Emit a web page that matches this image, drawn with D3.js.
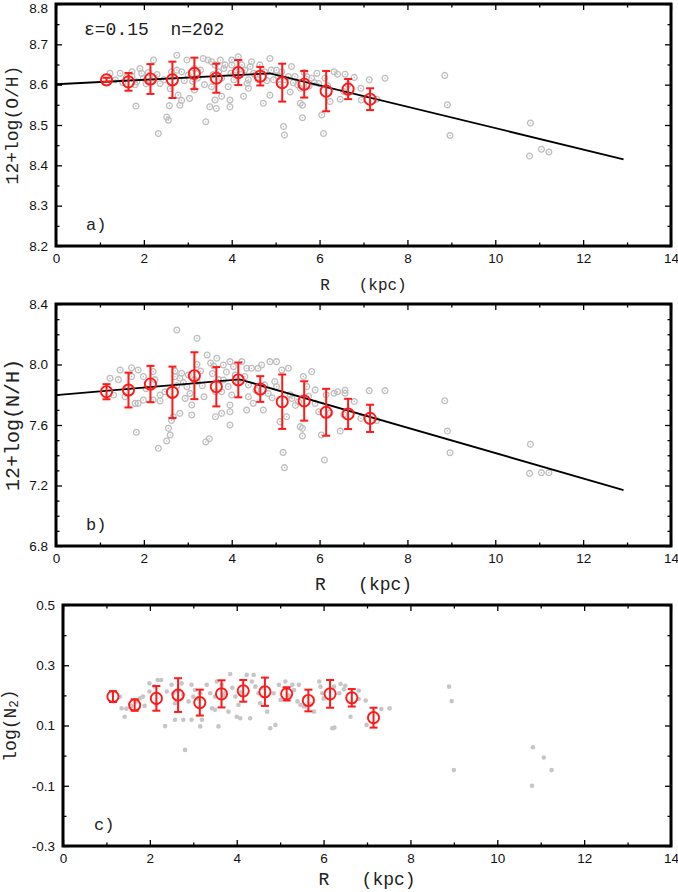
<!DOCTYPE html>
<html><head><meta charset="utf-8">
<script src="https://cdn.jsdelivr.net/npm/d3@7"></script>
<style>body{margin:0;background:#fff}svg{display:block}</style>
</head><body>
<svg id="c" width="678" height="892"></svg>
<script>
// ---------- DATA ----------
const binR = [1.15,1.65,2.15,2.65,3.15,3.65,4.15,4.65,5.15,5.65,6.15,6.65,7.15];
const binOH    = [8.612,8.607,8.614,8.612,8.628,8.616,8.630,8.621,8.605,8.601,8.584,8.589,8.564];
const binOHerr = [0.005,0.022,0.037,0.045,0.039,0.036,0.031,0.023,0.047,0.033,0.050,0.025,0.027];
const binNH    = [7.820,7.831,7.871,7.816,7.926,7.853,7.898,7.838,7.754,7.759,7.684,7.673,7.644];
const binNHerr = [0.050,0.115,0.120,0.170,0.155,0.130,0.115,0.085,0.180,0.130,0.155,0.100,0.090];
const binN2    = [0.196,0.168,0.190,0.201,0.176,0.205,0.215,0.212,0.205,0.183,0.205,0.192,0.126];
const binN2err = [0.018,0.019,0.041,0.056,0.043,0.045,0.036,0.047,0.022,0.036,0.046,0.029,0.033];

const fitOHR = [0, 4.87, 12.92];
const fitOH  = [8.601, 8.628, 8.415];
const fitNHR = [0, 4.18, 12.92];
const fitNH  = [7.798, 7.902, 7.170];

const ptsOH = [[1.23,8.628],[1.35,8.612],[1.46,8.628],[1.52,8.605],[1.60,8.618],[1.73,8.632],[1.73,8.620],[1.80,8.600],[1.84,8.607],[1.82,8.547],[1.91,8.640],[1.95,8.628],[1.99,8.616],[2.05,8.602],[2.10,8.630],[2.22,8.661],[2.25,8.616],[2.30,8.625],[2.37,8.603],[2.33,8.479],[2.45,8.612],[2.52,8.520],[2.56,8.512],[2.58,8.548],[2.63,8.632],[2.60,8.590],[2.68,8.620],[2.75,8.673],[2.75,8.636],[2.78,8.574],[2.82,8.549],[2.86,8.632],[2.86,8.561],[2.92,8.610],[2.98,8.661],[3.01,8.624],[3.04,8.566],[3.11,8.608],[3.15,8.587],[3.15,8.640],[3.22,8.616],[3.29,8.636],[3.35,8.665],[3.38,8.600],[3.41,8.508],[3.46,8.661],[3.50,8.545],[3.54,8.657],[3.54,8.595],[3.58,8.625],[3.62,8.649],[3.62,8.562],[3.65,8.541],[3.70,8.632],[3.74,8.661],[3.77,8.616],[3.77,8.571],[3.82,8.640],[3.85,8.649],[3.92,8.595],[3.96,8.562],[3.96,8.545],[3.98,8.628],[4.00,8.661],[4.00,8.649],[4.05,8.612],[4.10,8.636],[4.15,8.669],[4.20,8.625],[4.23,8.649],[4.27,8.571],[4.30,8.636],[4.35,8.603],[4.38,8.591],[4.38,8.612],[4.42,8.645],[4.45,8.657],[4.50,8.628],[4.53,8.624],[4.60,8.612],[4.64,8.649],[4.72,8.554],[4.75,8.632],[4.80,8.610],[4.87,8.665],[4.87,8.574],[4.90,8.636],[4.95,8.612],[5.02,8.636],[5.06,8.620],[5.10,8.600],[5.14,8.632],[5.18,8.496],[5.20,8.475],[5.22,8.612],[5.29,8.620],[5.33,8.582],[5.36,8.645],[5.40,8.605],[5.44,8.620],[5.50,8.600],[5.56,8.591],[5.56,8.554],[5.61,8.549],[5.61,8.518],[5.65,8.630],[5.71,8.620],[5.76,8.597],[5.82,8.616],[5.88,8.605],[5.94,8.628],[5.98,8.603],[6.05,8.525],[6.09,8.479],[6.12,8.616],[6.18,8.598],[6.24,8.558],[6.33,8.632],[6.41,8.626],[6.47,8.564],[6.55,8.583],[6.58,8.626],[6.65,8.600],[6.79,8.618],[6.94,8.591],[6.95,8.562],[7.13,8.612],[7.30,8.564],[7.49,8.616],[8.85,8.623],[8.91,8.550],[8.97,8.474],[10.80,8.505],[10.78,8.423],[11.05,8.440],[11.22,8.433]];

const ptsNH = [[1.23,7.909],[1.31,7.798],[1.42,7.900],[1.46,7.964],[1.57,7.787],[1.65,7.850],[1.72,7.979],[1.72,7.920],[1.80,7.743],[1.83,7.552],[1.87,7.964],[1.87,7.743],[1.99,7.920],[1.99,7.765],[2.05,7.840],[2.21,7.953],[2.21,7.765],[2.25,7.900],[2.33,7.446],[2.37,7.798],[2.37,7.759],[2.48,7.820],[2.52,7.494],[2.56,7.578],[2.60,7.534],[2.63,7.630],[2.67,7.655],[2.71,7.957],[2.71,7.920],[2.75,8.228],[2.75,7.860],[2.82,7.909],[2.82,7.677],[2.86,7.942],[2.90,7.880],[2.94,7.776],[2.98,7.853],[3.01,7.931],[3.05,7.809],[3.09,7.732],[3.09,7.666],[3.15,7.900],[3.21,8.173],[3.21,8.000],[3.21,7.887],[3.29,7.957],[3.33,7.860],[3.37,7.787],[3.41,7.488],[3.44,8.063],[3.49,7.509],[3.52,8.010],[3.56,7.940],[3.59,7.990],[3.63,7.820],[3.63,7.655],[3.66,8.041],[3.70,7.900],[3.77,7.820],[3.77,7.677],[3.81,7.997],[3.81,7.898],[3.88,7.950],[3.92,7.854],[3.96,8.019],[3.96,7.732],[3.96,7.688],[3.96,7.600],[4.00,7.798],[4.04,7.986],[4.08,7.930],[4.15,7.880],[4.23,8.019],[4.30,7.920],[4.34,7.975],[4.34,7.699],[4.38,7.865],[4.38,7.787],[4.45,7.975],[4.49,7.743],[4.55,7.830],[4.60,7.975],[4.68,7.997],[4.72,7.699],[4.75,7.865],[4.83,7.809],[4.87,8.019],[4.92,7.780],[4.98,7.887],[5.02,8.019],[5.02,7.854],[5.10,7.622],[5.14,7.964],[5.17,7.419],[5.20,7.318],[5.25,7.655],[5.29,7.975],[5.33,7.800],[5.37,7.776],[5.45,7.730],[5.52,7.754],[5.56,7.589],[5.61,7.578],[5.61,7.528],[5.63,7.920],[5.71,7.854],[5.75,7.790],[5.82,7.953],[5.90,7.743],[5.90,7.832],[5.98,7.688],[6.04,7.534],[6.11,7.369],[6.15,7.800],[6.24,7.680],[6.33,7.810],[6.41,7.820],[6.47,7.560],[6.55,7.670],[6.58,7.830],[6.58,7.810],[6.79,7.755],[6.94,7.644],[7.13,7.827],[7.30,7.630],[7.49,7.827],[8.85,7.760],[8.91,7.560],[8.97,7.417],[10.80,7.472],[10.78,7.280],[11.05,7.285],[11.22,7.285]];

const ptsN2 = [[1.31,0.196],[1.35,0.157],[1.42,0.129],[1.46,0.156],[1.57,0.165],[1.69,0.180],[1.77,0.190],[1.84,0.196],[1.88,0.165],[1.99,0.240],[1.99,0.213],[2.10,0.230],[2.15,0.170],[2.18,0.251],[2.26,0.251],[2.35,0.098],[2.39,0.213],[2.50,0.235],[2.54,0.207],[2.58,0.174],[2.58,0.119],[2.65,0.215],[2.73,0.240],[2.77,0.202],[2.77,0.119],[2.81,0.019],[2.89,0.180],[2.96,0.235],[2.96,0.119],[3.00,0.196],[3.04,0.218],[3.10,0.190],[3.16,0.207],[3.16,0.097],[3.20,0.119],[3.31,0.235],[3.39,0.207],[3.43,0.157],[3.50,0.196],[3.50,0.152],[3.54,0.246],[3.58,0.097],[3.66,0.235],[3.70,0.200],[3.73,0.207],[3.81,0.146],[3.85,0.271],[3.90,0.225],[3.97,0.196],[4.00,0.129],[4.04,0.168],[4.08,0.124],[4.10,0.210],[4.23,0.268],[4.31,0.124],[4.35,0.246],[4.39,0.268],[4.43,0.229],[4.50,0.207],[4.54,0.174],[4.60,0.225],[4.70,0.146],[4.77,0.091],[4.85,0.207],[4.89,0.102],[4.97,0.235],[5.01,0.185],[5.12,0.246],[5.20,0.200],[5.28,0.235],[5.32,0.218],[5.40,0.180],[5.43,0.235],[5.47,0.168],[5.55,0.163],[5.70,0.170],[5.78,0.146],[5.90,0.246],[5.93,0.229],[5.97,0.207],[6.00,0.190],[6.20,0.091],[6.24,0.229],[6.25,0.093],[6.36,0.207],[6.39,0.238],[6.47,0.220],[6.50,0.232],[6.62,0.129],[6.81,0.216],[6.81,0.188],[6.97,0.183],[6.99,0.102],[7.33,0.155],[7.52,0.157],[8.89,0.229],[8.95,0.181],[9.00,-0.048],[10.82,0.028],[11.07,-0.006],[11.25,-0.048],[10.80,-0.100]];

const xMajorTicks = [0,2,4,6,8,10,12,14];
const xMinorTicks = [1,3,5,7,9,11,13];
const ohTicks = [8.2,8.3,8.4,8.5,8.6,8.7,8.8];
const ohMinor = [8.25,8.35,8.45,8.55,8.65,8.75];
const nhTicks = [6.8,7.2,7.6,8.0,8.4];
const nhMinor = [6.9,7.0,7.1,7.3,7.4,7.5,7.7,7.8,7.9,8.1,8.2,8.3];
const n2Ticks = [-0.3,-0.1,0.1,0.3,0.5];
const n2Minor = [-0.2,0.0,0.2,0.4];

// ---------- DRAW ----------
const svg = d3.select('#c');
const RED = '#ff1a1a';
const GRAY = '#bdbdbd';
const MONO = '"Liberation Mono","DejaVu Sans Mono",monospace';
const SANS = '"Liberation Sans",Arial,sans-serif';
const fmt1 = d => d.toFixed(1);

function panel(o) {
  const g = svg.append('g');
  const x = d3.scaleLinear([0,14],[o.left,o.right]);
  const y = d3.scaleLinear(o.ydom,[o.bottom,o.top]);

  if (o.filled) {
    g.append('g').selectAll('circle').data(o.pts).join('circle')
      .attr('cx', d=>x(d[0])).attr('cy', d=>y(d[1])).attr('r', 2.3).attr('fill', '#c6c6c6');
  } else {
    const s = g.append('g').selectAll('g').data(o.pts).join('g')
      .attr('transform', d=>`translate(${x(d[0])},${y(d[1])})`);
    s.append('circle').attr('r', 2.9).attr('fill','none').attr('stroke',GRAY).attr('stroke-width',1.3);
    s.append('circle').attr('r', 0.8).attr('fill',GRAY);
  }

  if (o.fitR) {
    const line = d3.line().x(d=>x(d[0])).y(d=>y(d[1]));
    g.append('path').datum(o.fitR.map((r,i)=>[r,o.fit[i]]))
      .attr('d', line).attr('fill','none').attr('stroke','#000').attr('stroke-width',1.8);
  }

  const bins = binR.map((r,i)=>({r, v:o.bin[i], e:o.err[i]}));
  const b = g.append('g').selectAll('g').data(bins).join('g');
  b.append('line').attr('x1',d=>x(d.r)).attr('x2',d=>x(d.r))
    .attr('y1',d=>y(d.v-d.e)).attr('y2',d=>y(d.v+d.e)).attr('stroke',RED).attr('stroke-width',2);
  [-1,1].forEach(sg => b.append('line')
    .attr('x1',d=>x(d.r)-4).attr('x2',d=>x(d.r)+4)
    .attr('y1',d=>y(d.v+sg*d.e)).attr('y2',d=>y(d.v+sg*d.e))
    .attr('stroke',RED).attr('stroke-width',2));
  b.append('circle').attr('cx',d=>x(d.r)).attr('cy',d=>y(d.v)).attr('r',5.6)
    .attr('fill','none').attr('stroke',RED).attr('stroke-width',1.9);

  const style = sel => { sel.select('.domain').remove();
    sel.selectAll('line').attr('stroke','#000').attr('stroke-width',1.3);
    sel.attr('font-family',SANS).attr('font-size',13.5).selectAll('text').attr('fill','#111'); };
  g.append('g').attr('transform',`translate(0,${o.bottom})`)
    .call(d3.axisBottom(x).tickValues(xMajorTicks).tickSize(-6).tickPadding(7).tickFormat(d3.format('d'))).call(style);
  g.append('g').attr('transform',`translate(0,${o.bottom})`)
    .call(d3.axisBottom(x).tickValues(xMinorTicks).tickSize(-3.5).tickFormat('')).call(style);
  g.append('g').attr('transform',`translate(0,${o.top})`)
    .call(d3.axisTop(x).tickValues(xMajorTicks).tickSize(-6).tickFormat('')).call(style);
  g.append('g').attr('transform',`translate(0,${o.top})`)
    .call(d3.axisTop(x).tickValues(xMinorTicks).tickSize(-3.5).tickFormat('')).call(style);
  const yl = g.append('g').attr('transform',`translate(${o.left},0)`)
    .call(d3.axisLeft(y).tickValues(o.yTicks).tickSize(-6).tickPadding(8).tickFormat(fmt1)).call(style);
  // keep a label at the very top edge inside the page
  yl.selectAll('.tick').filter(d => y(d) < 10).select('text').attr('dy','0.62em');
  g.append('g').attr('transform',`translate(${o.left},0)`)
    .call(d3.axisLeft(y).tickValues(o.yMinor).tickSize(-3.5).tickFormat('')).call(style);
  g.append('g').attr('transform',`translate(${o.right},0)`)
    .call(d3.axisRight(y).tickValues(o.yTicks).tickSize(-6).tickFormat('')).call(style);
  g.append('g').attr('transform',`translate(${o.right},0)`)
    .call(d3.axisRight(y).tickValues(o.yMinor).tickSize(-3.5).tickFormat('')).call(style);

  g.append('rect').attr('x',o.left).attr('y',o.top).attr('width',o.right-o.left).attr('height',o.bottom-o.top)
    .attr('fill','none').attr('stroke','#000').attr('stroke-width',3);

  g.append('text').attr('x',(o.left+o.right)/2).attr('y',o.xTitleY).attr('text-anchor','middle')
    .attr('font-family',MONO).attr('font-size',o.xTitleSize).attr('fill','#222')
    .style('white-space','pre').text('R   (kpc)');
  const yt = g.append('text').attr('transform',`translate(${o.yTitleX},${(o.top+o.bottom)/2}) rotate(-90)`)
    .attr('text-anchor','middle').attr('dominant-baseline','central')
    .attr('font-family',MONO).attr('font-size',o.yTitleSize).attr('fill','#222');
  if (o.yTitleSub) {
    yt.append('tspan').text(o.yTitle);
    yt.append('tspan').attr('font-size',o.yTitleSize*0.7).attr('dy','0.3em').text(o.yTitleSub);
    yt.append('tspan').attr('dy','-0.3em').text(')');
  } else yt.text(o.yTitle);

  g.append('text').attr('x',o.tagX).attr('y',o.tagY).attr('font-family',MONO).attr('font-size',17)
    .attr('fill','#222').text(o.tag);
  return {x,y,g};
}

const pa = panel({left:56,right:671,top:4,bottom:246,ydom:[8.2,8.8],yTicks:ohTicks,yMinor:ohMinor,
  pts:ptsOH,fitR:fitOHR,fit:fitOH,bin:binOH,err:binOHerr,
  xTitleY:290,xTitleSize:16,yTitle:'12+log(O/H)',yTitleX:13,yTitleSize:18,tag:'a)',tagX:86,tagY:230});
pa.g.append('text').attr('x',84).attr('y',35).attr('font-family',MONO).attr('font-size',18)
  .attr('fill','#222').style('white-space','pre').text('ε=0.15  n=202');

panel({left:56,right:671,top:304,bottom:546,ydom:[6.8,8.4],yTicks:nhTicks,yMinor:nhMinor,
  pts:ptsNH,fitR:fitNHR,fit:fitNH,bin:binNH,err:binNHerr,
  xTitleY:590,xTitleSize:18,yTitle:'12+log(N/H)',yTitleX:13,yTitleSize:20,tag:'b)',tagX:86,tagY:530});

panel({left:63,right:671,top:605,bottom:846,ydom:[-0.3,0.5],yTicks:n2Ticks,yMinor:n2Minor,
  pts:ptsN2,filled:true,bin:binN2,err:binN2err,
  xTitleY:885,xTitleSize:18,yTitle:'log(N',yTitleSub:'2',yTitleX:11,yTitleSize:18,tag:'c)',tagX:94,tagY:830});
</script>
</body></html>
